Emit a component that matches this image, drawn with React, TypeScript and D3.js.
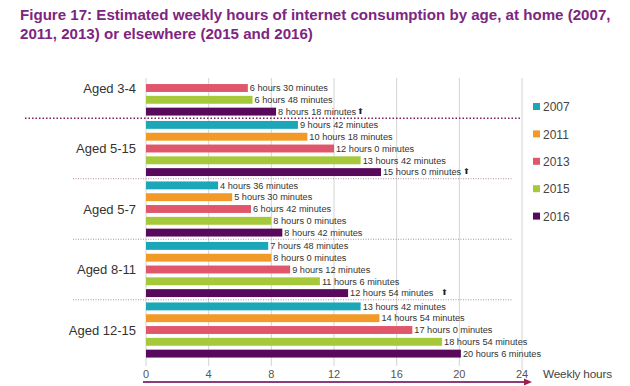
import * as d3 from "d3";

const groups = ["Aged 3-4", "Aged 5-15", "Aged 5-7", "Aged 8-11", "Aged 12-15"];
const years = ["2007", "2011", "2013", "2015", "2016"];
const colors = ["#1ba7b8", "#f29a27", "#e0566b", "#a6c83b", "#59095b"];

// weekly hours per group (null = not measured)
const hours2007 = [null, 9.7, 4.6, 7.8, 13.7];
const hours2011 = [null, 10.3, 5.5, 8.0, 14.9];
const hours2013 = [6.5, 12.0, 6.7, 9.2, 17.0];
const hours2015 = [6.8, 13.7, 8.0, 11.1, 18.9];
const hours2016 = [8.3, 15.0, 8.7, 12.9, 20.1];
const series = [hours2007, hours2011, hours2013, hours2015, hours2016];

// up-arrow marks after the 2016 labels
const arrow2016 = [true, true, false, true, false];
const arrowGap = [1, 2, 0, 8, 0];

const xTicks = [0, 4, 8, 12, 16, 20, 24];

const width = 630;
const height = 386;

function fmt(v: number) {
  const h = Math.floor(v);
  const m = Math.round((v - h) * 60);
  return `${h} hours ${m} minutes`;
}

export default function App() {
  const x = d3.scaleLinear([0, 24], [146, 522]);
  const gy = d3.scaleBand(groups, [58.5, 359.5]).paddingInner(0.0248).paddingOuter(0);
  const iy = d3
    .scaleBand(years, [0, gy.bandwidth()])
    .paddingInner(0.33)
    .paddingOuter(0.165);
  const sepY = (g: string) => (gy(g) as number) - (gy.step() * gy.paddingInner()) / 2;
  const font = "Liberation Sans, Arial, sans-serif";

  return (
    <svg
      width={width}
      height={height}
      style={{ position: "absolute", left: 0, top: 0, display: "block", background: "#fff" }}
      fontFamily={font}
    >
      {/* title */}
      <g fill="#7d2581" fontWeight="bold" fontSize="15.1">
        <text x={20} y={20}>
          Figure 17: Estimated weekly hours of internet consumption by age, at home (2007,
        </text>
        <text x={20} y={39}>
          2011, 2013) or elsewhere (2015 and 2016)
        </text>
      </g>

      {/* grid */}
      <g stroke="#d4d4d4" strokeWidth={1}>
        {xTicks.map((t) => (
          <line key={t} x1={x(t)} x2={x(t)} y1={78} y2={t === 24 ? 370 : 366} />
        ))}
      </g>

      {/* separators */}
      {groups.slice(1).map((g, i) =>
        i === 0 ? (
          <line
            key={g}
            x1={25}
            x2={522}
            y1={sepY(g)}
            y2={sepY(g)}
            stroke="#7a1f5c"
            strokeWidth={1.6}
            strokeDasharray="1.5,2"
          />
        ) : (
          <line
            key={g}
            x1={73}
            x2={513}
            y1={sepY(g)}
            y2={sepY(g)}
            stroke="#b58aa3"
            strokeWidth={1}
            strokeDasharray="1,1.5"
          />
        )
      )}

      {/* group labels */}
      {groups.map((g) => (
        <text
          key={g}
          x={136}
          y={(gy(g) as number) + (iy("2013") as number) + iy.bandwidth() / 2}
          dy="0.35em"
          textAnchor="end"
          fontSize={13}
          fill="#333"
        >
          {g}
        </text>
      ))}

      {/* bars and value labels */}
      {series.map((vals, si) =>
        vals.map((v, gi) => {
          if (v == null) return null;
          const g = groups[gi];
          const y0 = (gy(g) as number) + (iy(years[si]) as number);
          const cy = y0 + iy.bandwidth() / 2;
          return (
            <g key={`${si}-${gi}`}>
              <rect x={x(0)} y={y0} width={x(v) - x(0)} height={iy.bandwidth()} fill={colors[si]} />
              <text x={x(v) + 2} y={cy} dy="0.35em" fontSize={9.2} fill="#333">
                {fmt(v)}
                {si === 4 && arrow2016[gi] ? (
                  <tspan dx={arrowGap[gi]} dy={-1} fontSize={8} fontFamily="DejaVu Sans" fill="#222">
                    ⬆
                  </tspan>
                ) : null}
              </text>
            </g>
          );
        })
      )}

      {/* legend */}
      {years.map((yr, i) => (
        <g key={yr} transform={`translate(533,${107 + i * 27.4})`}>
          <rect x={0} y={-4} width={7} height={7} fill={colors[i]} />
          <text x={10} y={0} dy="0.35em" fontSize={12} fill="#444">
            {yr}
          </text>
        </g>
      ))}

      {/* x axis */}
      <g fontSize={11} fill="#555" textAnchor="middle">
        {xTicks.map((t) => (
          <text key={t} x={x(t)} y={378}>
            {t}
          </text>
        ))}
      </g>
      <line x1={143} x2={526} y1={382} y2={382} stroke="#8c3b7d" strokeWidth={1.8} />
      <path d="M524,378.5 L532,382 L524,385.5 Z" fill="#9c2050" />
      <text x={543} y={378} fontSize={11.8} fill="#444" letterSpacing={-0.2}>
        Weekly hours
      </text>
    </svg>
  );
}
